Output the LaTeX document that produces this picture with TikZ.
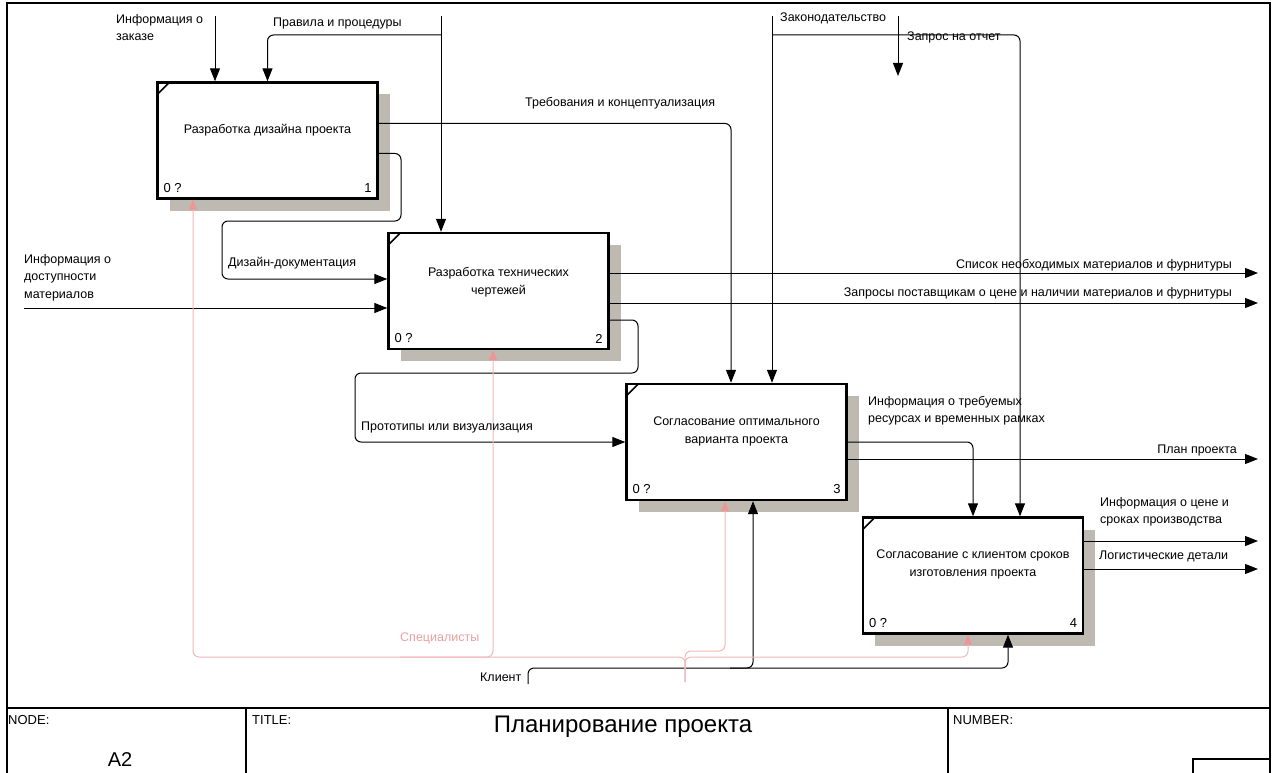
\documentclass[tikz,border=0pt]{standalone}
\usepackage{fontspec}
\setmainfont{Liberation Sans}
\usetikzlibrary{arrows.meta,shadows}

\definecolor{shadowgray}{RGB}{190,186,178}
\definecolor{specpink}{RGB}{240,185,185}
\definecolor{specpinkhead}{RGB}{238,150,150}
\definecolor{spectext}{RGB}{232,160,160}

\tikzset{
  func/.style={draw, line width=2.4pt, fill=white, minimum width=220pt, minimum height=116pt, inner sep=0pt,
    drop shadow={shadow xshift=12pt, shadow yshift=-12pt, opacity=1, fill=shadowgray}},
  boxtxt/.style={align=center, inner sep=0pt, font=\fontsize{12.5}{18}\selectfont},
  lbl/.style={inner sep=0pt, align=left, font=\fontsize{12.5}{17.5}\selectfont},
  corner/.style={inner sep=0pt, font=\fontsize{13}{14}\selectfont},
  arr/.style={line width=1pt, -{Triangle[length=13pt,width=10pt]}},
  mech/.style={draw=specpink, line width=1pt, -{Triangle[length=10pt,width=8pt,color=specpinkhead]}},
}

\begin{document}
\begin{tikzpicture}[x=1pt,y=-1pt]
    \useasboundingbox (0,0) rectangle (1275,773);

    % frame and title block
    \draw[line width=2.5pt] (7,3) rectangle (1270,790);
    \draw[line width=1.2pt] (7,708) -- (1270,708) (246,708) -- (246,790) (948,708) -- (948,790);
    \draw[line width=1.2pt] (1193,759) rectangle (1270,790);
    \node[corner, anchor=west] (nodelbl) at (8,720) {NODE:};
    \node[corner, anchor=west] (titlelbl) at (252,720) {TITLE:};
    \node[corner, anchor=west] (numlbl) at (953,720) {NUMBER:};
    \node[inner sep=0pt, font=\fontsize{20}{22}\selectfont] (nodenum) at (120,760) {A2};
    \node[inner sep=0pt, font=\fontsize{24}{26}\selectfont] (title) at (623,727) {Планирование проекта};

    % functions
    \node[func] (design) at (267.5,140.5) {};
    \node[func] (drawings) at (498.5,291) {};
    \node[func] (approval) at (736.5,442) {};
    \node[func] (agreement) at (973,575.5) {};

    \node[boxtxt] (design-t) at ([yshift=10pt]design.center) {Разработка дизайна проекта};
    \node[boxtxt] (drawings-t) at ([yshift=9pt]drawings.center) {Разработка технических\\чертежей};
    \node[boxtxt] (approval-t) at ([yshift=11pt]approval.center) {Согласование оптимального\\варианта проекта};
    \node[boxtxt] (agreement-t) at ([yshift=11pt]agreement.center) {Согласование с клиентом сроков\\изготовления проекта};

    \foreach \b/\n in {design/1,drawings/2,approval/3,agreement/4}{
        \draw[line width=1.6pt] ([xshift=1.2pt,yshift=-13pt]\b.north west) -- ([xshift=13pt,yshift=-1.2pt]\b.north west);
        \node[corner, anchor=south west] (\b-q) at ([xshift=7pt,yshift=7pt]\b.south west) {0 ?};
        \node[corner, anchor=south east] (\b-n) at ([xshift=-7pt,yshift=7pt]\b.south east) {\n};
    }

    % controls
    \coordinate (ordr) at (215,16);
    \coordinate (rules) at (441,16);
    \coordinate (rulesj) at (441,35);
    \coordinate (law) at (772,16);
    \coordinate (lawj) at (772,35);
    \coordinate (repq) at (898,16);
    \coordinate (repqe) at (898,76);
    \draw[arr] (ordr) -- (ordr |- design.north);
    \draw[arr] (rules) -- (rules |- drawings.north);
    \draw[arr, rounded corners=6pt] (rulesj) -| (design.north);
    \draw[arr] (law) -- (law |- approval.north);
    \draw[arr, rounded corners=6pt] (lawj) -| ([xshift=47pt]agreement.north);
    \draw[arr] (repq) -- (repqe);

    % inputs and outputs
    \draw[arr, rounded corners=6pt] ([yshift=17pt]design.east) -| ([xshift=-5.5pt]approval.north);
    \draw[arr, rounded corners=6pt] ([yshift=-13pt]design.east) -| (401,221) -- (222,221) |- ([yshift=12pt]drawings.west);
    \coordinate (avail) at (24,308);
    \draw[arr] (avail) -- (avail -| drawings.west);
    \coordinate (mlist) at (1258,273);
    \coordinate (mreq) at (1258,303);
    \draw[arr] (drawings.east |- mlist) -- (mlist);
    \draw[arr] (drawings.east |- mreq) -- (mreq);
    \draw[arr, rounded corners=6pt] ([yshift=-29pt]drawings.east) -| (638,373) -- (355,373) |- (approval.west);
    \draw[arr, rounded corners=6pt] (approval.east) -| (agreement.north);
    \coordinate (plan) at (1258,459);
    \draw[arr] (approval.east |- plan) -- (plan);
    \coordinate (price) at (1258,541);
    \coordinate (logi) at (1258,569);
    \draw[arr] (agreement.east |- price) -- (price);
    \draw[arr] (agreement.east |- logi) -- (logi);

    % mechanisms
    \coordinate (client) at (528,684);
    \draw[arr, rounded corners=6pt] (client) |- (1008,668) -- ([xshift=35pt]agreement.south);
    \draw[arr, rounded corners=6pt] (730,668) -| ([xshift=16.5pt]approval.south);
    \coordinate (spec) at (685,682);
    \draw[mech, rounded corners=6pt] (spec) |- (193,657) -- ([xshift=-74.5pt]design.south);
    \draw[mech, rounded corners=6pt] (400,657) -| ([xshift=-5.5pt]drawings.south);
    \draw[mech, rounded corners=6pt] (spec) |- (968,657) -- ([xshift=-5pt]agreement.south);
    \draw[mech, rounded corners=6pt] (spec) |- (725,651) -- ([xshift=-11.5pt]approval.south);

    % labels
    \node[lbl, anchor=north west] (l-order) at (116,14) {Информация о\\заказе};
    \node[lbl, anchor=west] (l-rules) at (273,23) {Правила и процедуры};
    \node[lbl, anchor=west] (l-law) at (780,18) {Законодательство};
    \node[lbl, anchor=west] (l-report) at (907,37) {Запрос на отчет};
    \node[lbl, anchor=west] (l-req) at (525,103) {Требования и концептуализация};
    \node[lbl, anchor=west] (l-doc) at (228,263) {Дизайн-документация};
    \node[lbl, anchor=north west] (l-avail) at (24,254) {Информация о\\доступности\\материалов};
    \node[lbl, anchor=east] (l-mlist) at (1232,265) {Список необходимых материалов и фурнитуры};
    \node[lbl, anchor=east] (l-mreq) at (1232,293) {Запросы поставщикам о цене и наличии материалов и фурнитуры};
    \node[lbl, anchor=west] (l-proto) at (361,427) {Прототипы или визуализация};
    \node[lbl, anchor=north west] (l-res) at (868,396) {Информация о требуемых\\ресурсах и временных рамках};
    \node[lbl, anchor=east] (l-plan) at (1237,450) {План проекта};
    \node[lbl, anchor=north west] (l-price) at (1100,497) {Информация о цене и\\сроках производства};
    \node[lbl, anchor=west] (l-logi) at (1099,556) {Логистические детали};
    \node[lbl, anchor=west, text=spectext] (l-spec) at (400,638) {Специалисты};
    \node[lbl, anchor=west] (l-client) at (480,677) {Клиент};
\end{tikzpicture}
\end{document}
